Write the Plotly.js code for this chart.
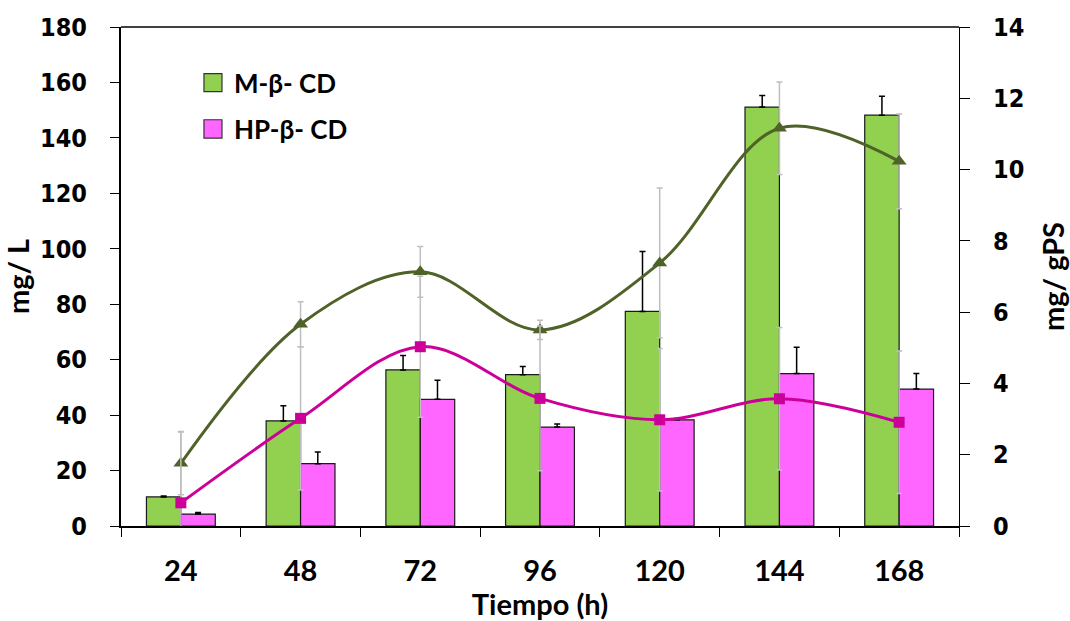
<!DOCTYPE html>
<html>
<head>
<meta charset="utf-8">
<script src="https://cdn.plot.ly/plotly-3.0.1.min.js"></script>
<style>
  html, body { margin: 0; padding: 0; background: #ffffff; }
  #chart { width: 1070px; height: 621px; }
</style>
</head>
<body>
<div id="chart"></div>
<script>
// Sampling times (h)
const categories = ['24', '48', '72', '96', '120', '144', '168'];

// Concentration in broth, mg/L (bars, left axis)
const mbcdConc     = [10.5, 37.9, 56.3, 54.6, 77.4, 151.1, 148.2];
const mbcdConcErr  = [0.3, 5.5, 5.2, 2.9, 21.6, 4.2, 6.8];
const hpbcdConc    = [4.3, 22.5, 45.7, 35.7, 38.3, 55.0, 49.4];
const hpbcdConcErr = [0.6, 4.2, 6.9, 1.1, 0.5, 9.5, 5.6];

// Specific yield, mg/gPS (smoothed lines, right axis)
const mbcdYield     = [1.76, 5.66, 7.13, 5.50, 7.38, 11.16, 10.23];
const mbcdYieldErr  = [0.88, 0.63, 0.71, 0.27, 2.1, 1.3, 1.33];
const hpbcdYield    = [0.65, 3.02, 5.03, 3.58, 2.98, 3.57, 2.91];
const hpbcdYieldErr = [2.0, 2.01, 1.98, 2.03, 2.0, 2.0, 2.0];

const seriesNames = ['M-β- CD', 'HP-β- CD'];
const barColors = ['#92d050', '#ff66ff'];
const lineColors = ['#4f6228', '#cc0099'];

const labelFont = { family: 'Lato, "Open Sans", sans-serif', weight: 'bold', color: '#000000' };
const numFont = { family: '"DejaVu Sans Condensed", "DejaVu Sans", Verdana, sans-serif', weight: 'bold', color: '#000000' };

const barErr = (arr) => ({
  type: 'data', symmetric: false, array: arr, arrayminus: arr.map(() => 0),
  color: '#000000', thickness: 1.5, width: 3
});
const lineErr = (arr) => ({
  type: 'data', array: arr, color: '#bfbfbf', thickness: 1.5, width: 3
});

const traces = [
  {
    type: 'bar', name: seriesNames[0], x: categories, y: mbcdConc,
    marker: { color: barColors[0], line: { color: '#1a1a1a', width: 1.2 } },
    error_y: barErr(mbcdConcErr), yaxis: 'y'
  },
  {
    type: 'bar', name: seriesNames[1], x: categories, y: hpbcdConc,
    marker: { color: barColors[1], line: { color: '#1a1a1a', width: 1.2 } },
    error_y: barErr(hpbcdConcErr), yaxis: 'y'
  },
  {
    type: 'scatter', mode: 'lines+markers', name: seriesNames[0] + ' (mg/gPS)',
    x: categories, y: mbcdYield, yaxis: 'y2',
    line: { color: lineColors[0], width: 3, shape: 'spline', smoothing: 1 },
    marker: { symbol: 'triangle-up', size: 13, color: lineColors[0] },
    error_y: lineErr(mbcdYieldErr)
  },
  {
    type: 'scatter', mode: 'lines+markers', name: seriesNames[1] + ' (mg/gPS)',
    x: categories, y: hpbcdYield, yaxis: 'y2',
    line: { color: lineColors[1], width: 3, shape: 'spline', smoothing: 1 },
    marker: { symbol: 'square', size: 11, color: lineColors[1] },
    error_y: lineErr(hpbcdYieldErr)
  }
];

// Legend for the bar series, drawn in paper coordinates
const legendRows = [
  { y0: 0.8703, y1: 0.9064, ty: 0.8883 },
  { y0: 0.7774, y1: 0.8141, ty: 0.7961 }
];
const legendShapes = legendRows.map((r, i) => ({
  type: 'rect', xref: 'paper', yref: 'paper',
  x0: 0.099, x1: 0.1205, y0: r.y0, y1: r.y1,
  fillcolor: barColors[i], line: { color: '#333333', width: 1.2 }
}));
const legendLabels = legendRows.map((r, i) => ({
  xref: 'paper', yref: 'paper', x: 0.1325, y: r.ty,
  xanchor: 'left', yanchor: 'middle', showarrow: false,
  text: seriesNames[i], font: Object.assign({ size: 26 }, labelFont)
}));

const layout = {
  width: 1070, height: 621,
  margin: { l: 121, r: 111, t: 27, b: 95 },
  paper_bgcolor: '#ffffff', plot_bgcolor: '#ffffff',
  showlegend: false,
  barmode: 'group', bargap: 0.425, bargroupgap: 0,
  xaxis: {
    type: 'category', tickson: 'boundaries',
    showline: true, linecolor: '#000000', linewidth: 2,
    ticks: 'outside', ticklen: 9, tickwidth: 1, tickcolor: '#000000',
    showgrid: false, zeroline: false,
    tickfont: Object.assign({ size: 29 }, labelFont),
    ticklabelstandoff: 18,
    title: { text: 'Tiempo (h)', font: Object.assign({ size: 29 }, labelFont), standoff: 6 }
  },
  yaxis: {
    range: [0, 180], dtick: 20,
    showline: true, linecolor: '#000000', linewidth: 2,
    ticks: 'outside', ticklen: 9, tickwidth: 1, tickcolor: '#000000',
    showgrid: false, zeroline: false,
    tickfont: Object.assign({ size: 25 }, numFont),
    ticklabelstandoff: 18,
    title: { text: 'mg/ L', font: Object.assign({ size: 29 }, labelFont), standoff: 5 }
  },
  yaxis2: {
    range: [0, 14], dtick: 2, overlaying: 'y', side: 'right',
    showline: true, linecolor: '#000000', linewidth: 1,
    ticks: 'outside', ticklen: 10, tickwidth: 1, tickcolor: '#000000',
    showgrid: false, zeroline: false,
    tickfont: Object.assign({ size: 25 }, numFont),
    ticklabelstandoff: 18,
    title: { text: 'mg/ gPS', font: Object.assign({ size: 29 }, labelFont), standoff: 20 }
  },
  shapes: [
    // frame line along the top of the plot area
    { type: 'line', xref: 'paper', yref: 'paper', x0: 0, x1: 1, y0: 1, y1: 1,
      line: { color: '#000000', width: 1.3 } }
  ].concat(legendShapes),
  annotations: legendLabels
};

Plotly.newPlot('chart', traces, layout, { displayModeBar: false, staticPlot: true });
</script>
</body>
</html>
